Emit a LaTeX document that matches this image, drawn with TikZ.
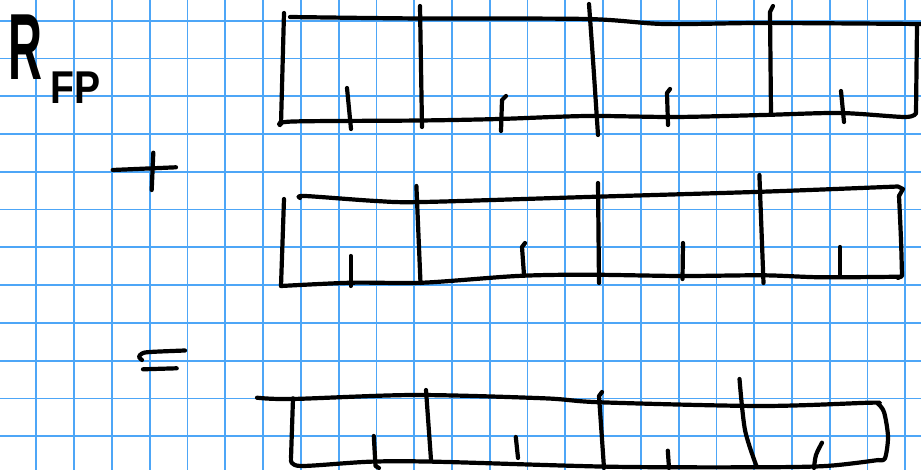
\documentclass[tikz,border=0pt]{standalone}
\usepackage{fontspec}
\newfontfamily\handfont{Liberation Sans}
\usepackage{xcolor}
\definecolor{gridblue}{HTML}{4DA6F7}
\tikzset{
  pen/.style={line width=4.2pt, line cap=round, line join=round},
  gridline/.style={gridblue, line width=1.8pt}
}

\begin{document}
\begin{tikzpicture}[x=1pt, y=-1pt]
  \useasboundingbox (0,0) rectangle (921,470);
  % paper grid
  \foreach \i in {0,...,24}
    \draw[gridline] ({-1.4+37.78*\i},0) -- ++(0,470);
  \foreach \j in {0,...,13}
    \draw[gridline] (0,{-17.1+37.78*\j}) -- ++(921,0);

  % label
  \node[font=\handfont\bfseries\fontsize{94}{94}\selectfont, anchor=base west,
        inner sep=0] (rlabel) at (8,80) {\scalebox{0.5}[1]{R}};
  \node[font=\handfont\bfseries\fontsize{46}{46}\selectfont, anchor=base west,
        inner sep=0] (fplabel) at (50,104) {\scalebox{0.85}[1]{FP}};

  % first row
  \draw[pen] plot[smooth] coordinates {(290,17) (420,18.5) (587,19) (664,24) (763,23) (921,24)};
  \draw[pen] (284,13) -- (281,124);
  \draw[pen] plot[smooth] coordinates {(280,125) (293,121.5) (420,120.5) (499,119) (587,116) (675,117) (763,115) (840,113) (905,117) (916,113)};
  \draw[pen] (917,26) -- (916,113);
  \draw[pen] (420,6) -- (422,127);
  \draw[pen] plot[smooth] coordinates {(589,4) (593,60) (598,135)};
  \draw[pen] (773,6) -- (770,12) -- (771,113);
  \draw[pen] (347,88) -- (351,129);
  \draw[pen] (506,96) -- (502,100) -- (501,131);
  \draw[pen] (670,89) -- (667,93) -- (668,125);
  \draw[pen] (841,91) -- (844,122);

  % plus
  \draw[pen] (112.7,170) -- (176,167.3);
  \draw[pen] (153.3,152.7) -- (151.7,190);

  % second row
  \draw[pen] plot[smooth] coordinates {(300,198) (305,196) (376,201) (423,202) (587,197) (763,191.7) (898,186.5)}
    -- (903,189) -- (899,196);
  \draw[pen] plot[smooth] coordinates {(899,196) (901,240) (902,276)} -- (898,278);
  \draw[pen] (284,199) -- (281,286);
  \draw[pen] plot[smooth] coordinates {(281,286) (352,282.7) (423,282.7) (517,276) (587,274.7) (681,276) (763,275.3) (822,277.3) (901,276.7)};
  \draw[pen] (416.4,186) -- (420.5,283);
  \draw[pen] (598,183) -- (599,283);
  \draw[pen] (759.4,175) -- (763.5,283);
  \draw[pen] (350.6,256) -- (350.6,286);
  \draw[pen] (525,243) -- (522,247) -- (524,275);
  \draw[pen] (683,243) -- (682.5,279);
  \draw[pen] (840,247) -- (840,275);

  % equals
  \draw[pen] plot[smooth] coordinates {(185,350.5) (150,352) (142,353.5) (139,357) (142,360)};
  \draw[pen] (143,369.3) -- (176.7,368.3);

  % third row
  \draw[pen] plot[smooth] coordinates {(257,397.7) (292,399) (414,395) (544,398.3) (600.5,402.3) (761,406) (870,402.7) (877.6,403.3)};
  \draw[pen] plot[smooth] coordinates {(877.6,403.3) (884,412) (888,436.7) (885,458.3) (878.4,460)};
  \draw[pen] plot[smooth] coordinates {(878.4,460) (826,466) (752.5,467.3) (609,466.7) (435,461.7) (370,461.7) (300.8,466) (291,460)};
  \draw[pen] (293,398.3) -- (291,458);
  \draw[pen] (426,390) -- (431,460);
  \draw[pen] (602,392) -- (599,396) -- (604,468);
  \draw[pen] plot[smooth] coordinates {(739.5,379) (745,430) (756.8,467)};
  \draw[pen] (373.8,436) -- (375.5,466) -- (379,468);
  \draw[pen] (515.8,437) -- (518,458);
  \draw[pen] (667.8,450.7) -- (669,468);
  \draw[pen] plot[smooth] coordinates {(822,442.7) (816,455) (814,468)};
\end{tikzpicture}
\end{document}
